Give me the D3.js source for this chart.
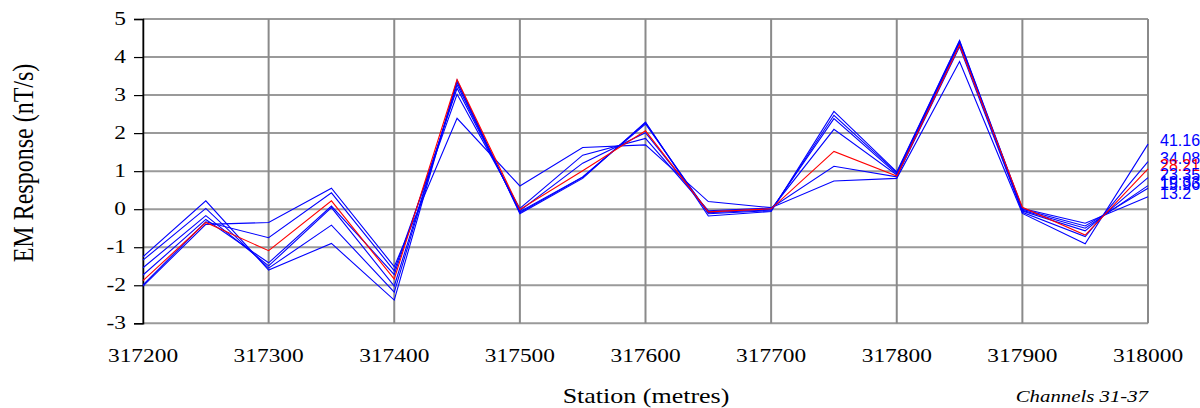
<!DOCTYPE html>
<html>
<head>
<meta charset="utf-8">
<script src="https://cdn.jsdelivr.net/npm/d3@7/dist/d3.min.js"></script>
<style>
  html, body { margin: 0; padding: 0; background: #fff; }
  svg { display: block; }
</style>
</head>
<body>
<svg id="chart" width="1200" height="408"></svg>
<script>
// Station positions along the line (metres)
const stations = [317200, 317250, 317300, 317350, 317400, 317450, 317500, 317550, 317600,
                  317650, 317700, 317750, 317800, 317850, 317900, 317950, 318000];

// Channel delay labels (shown at the line ends)
const channelLabels = ["13.2", "15.96", "19.33", "23.35", "28.21", "34.08", "41.16"];
const highlightLabel = "28.21";

// EM response per channel, nT/s, one value per station
const ch13_2  = [-1.25, 0.22, -1.60, -0.90, -2.39, 3.39, -0.12, 0.81, 2.29, -0.18, -0.06, 2.57, 0.98, 4.44, 0.02, -0.37, 0.33];
const ch15_96 = [-1.34, 0.02, -1.55, -0.42, -2.18, 3.34, -0.09, 0.84, 2.27, -0.12, -0.04, 2.47, 0.96, 4.42, 0.00, -0.44, 0.55];
const ch19_33 = [-1.54, -0.17, -1.49, 0.04, -2.02, 3.27, -0.07, 0.85, 2.24, -0.09, -0.02, 2.38, 0.93, 4.39, -0.03, -0.50, 0.62];
const ch23_35 = [-1.73, -0.27, -1.41, 0.08, -1.72, 3.18, -0.04, 1.21, 2.01, -0.06, 0.00, 2.10, 0.90, 4.36, -0.05, -0.57, 0.83];
const ch28_21 = [-1.88, -0.35, -1.09, 0.22, -1.84, 3.41, -0.01, 1.01, 2.06, -0.07, 0.01, 1.52, 0.87, 4.31, 0.05, -0.68, 1.06];
const ch34_08 = [-1.99, -0.33, -0.75, 0.43, -1.62, 3.02, 0.02, 1.42, 1.86, -0.04, 0.03, 1.13, 0.85, 4.27, -0.08, -0.72, 1.25];
const ch41_16 = [-2.02, -0.40, -0.35, 0.55, -1.51, 2.39, 0.61, 1.62, 1.69, 0.20, 0.04, 0.74, 0.81, 3.88, -0.11, -0.91, 1.71];

const yTicks = [-3, -2, -1, 0, 1, 2, 3, 4, 5];
const xTicks = [317200, 317300, 317400, 317500, 317600, 317700, 317800, 317900, 318000];

const seriesValues = [ch13_2, ch15_96, ch19_33, ch23_35, ch28_21, ch34_08, ch41_16];
const series = channelLabels.map((label, i) => ({ label, values: seriesValues[i] }));

const svg = d3.select("#chart");
const plotLeft = 143, plotRight = 1148, plotTop = 19, plotBottom = 323.3;
const widen = 1.3; // horizontal stretch of the serif lettering

const x = d3.scaleLinear().domain([317200, 318000]).range([plotLeft, plotRight]);
const y = d3.scaleLinear().domain([-3, 5]).range([plotBottom, plotTop]);

const serif = "'Liberation Serif', 'Times New Roman', serif";
const sans = "'Liberation Sans', Arial, sans-serif";
const plain = d => String(d);

// Grid
const grid = svg.append("g");
grid.selectAll("line.h").data(yTicks).join("line")
  .attr("class", "h")
  .attr("x1", plotLeft).attr("x2", plotRight)
  .attr("y1", d => y(d)).attr("y2", d => y(d))
  .attr("stroke", "#9a9a9a").attr("stroke-width", 2);
grid.selectAll("line.v").data(xTicks).join("line")
  .attr("class", "v")
  .attr("x1", d => x(d)).attr("x2", d => x(d))
  .attr("y1", plotTop).attr("y2", plotBottom)
  .attr("stroke", "#8a8a8a").attr("stroke-width", 2);

// Y axis (line and ticks from d3, labels redrawn stretched)
const yAxis = svg.append("g")
  .attr("transform", `translate(${plotLeft},0)`)
  .call(d3.axisLeft(y).tickValues(yTicks).tickSize(9).tickFormat(plain));
yAxis.select(".domain").attr("stroke", "#000").attr("stroke-width", 1.5);
yAxis.selectAll(".tick line").attr("stroke", "#000").attr("stroke-width", 1.2);
yAxis.selectAll(".tick text").remove();

svg.append("g").selectAll("text").data(yTicks).join("text")
  .attr("transform", d => `translate(126,${y(d)}) scale(${widen},1)`)
  .attr("dy", "0.33em")
  .attr("text-anchor", "end")
  .attr("font-family", serif).attr("font-size", 18).attr("fill", "#000")
  .text(plain);

// X tick labels
svg.append("g").selectAll("text").data(xTicks).join("text")
  .attr("transform", d => `translate(${x(d)},362) scale(${widen},1)`)
  .attr("text-anchor", "middle")
  .attr("font-family", serif).attr("font-size", 18).attr("fill", "#000")
  .text(plain);

// Response lines
const line = d3.line()
  .x((d, i) => x(stations[i]))
  .y(d => y(d));

const ordered = series.filter(s => s.label !== highlightLabel)
  .concat(series.filter(s => s.label === highlightLabel));

svg.append("g").selectAll("path").data(ordered).join("path")
  .attr("d", s => line(s.values))
  .attr("fill", "none")
  .attr("stroke", s => s.label === highlightLabel ? "#ff0000" : "#0000ff")
  .attr("stroke-width", 1.1)
  .attr("stroke-linejoin", "miter");

// End labels
svg.append("g").selectAll("text").data(series.slice().reverse()).join("text")
  .attr("x", plotRight + 12)
  .attr("y", s => y(s.values[s.values.length - 1]) + 2)
  .attr("font-family", sans)
  .attr("font-size", 16)
  .attr("fill", s => s.label === highlightLabel ? "#ff0000" : "#0000ff")
  .text(s => s.label);

// Axis titles
svg.append("text")
  .attr("transform", `translate(33,163) rotate(-90) scale(1,1.25)`)
  .attr("text-anchor", "middle")
  .attr("font-family", serif).attr("font-size", 24)
  .text("EM Response (nT/s)");

svg.append("text")
  .attr("transform", `translate(646,403) scale(${widen},1)`)
  .attr("text-anchor", "middle")
  .attr("font-family", serif).attr("font-size", 20)
  .text("Station (metres)");

svg.append("text")
  .attr("transform", `translate(${plotRight},402) scale(${widen},1)`)
  .attr("text-anchor", "end")
  .attr("font-family", serif).attr("font-size", 16).attr("font-style", "italic")
  .text("Channels 31-37");
</script>
</body>
</html>
